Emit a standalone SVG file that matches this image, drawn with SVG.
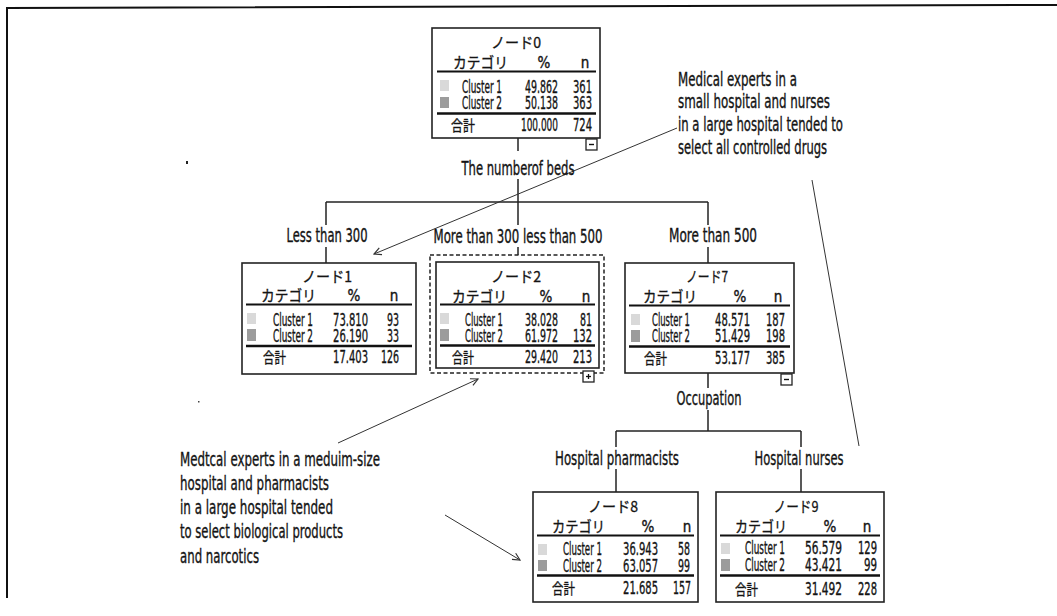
<svg xmlns="http://www.w3.org/2000/svg" width="1057" height="616" viewBox="0 0 1057 616">
<style>
.t{font-family:"DejaVu Sans Condensed","Liberation Sans Narrow","Liberation Sans","Noto Sans CJK JP",sans-serif;fill:#141414;stroke:#141414;stroke-width:0.35;}
.j{font-family:"Noto Sans CJK JP","Noto Sans CJK SC",sans-serif;fill:#141414;stroke:#141414;stroke-width:0.3;}
.ttl{font-size:15px;text-anchor:middle;}
.hdr{font-size:15px;}
.cl{font-size:17px;}
.num{font-size:17px;text-anchor:end;}
.lab{font-size:19px;text-anchor:middle;}
.ann{font-size:19px;}
.box{fill:#fff;stroke:#222;stroke-width:1.6;}
.rule{stroke:#111;stroke-width:2;}
.sw1{fill:#d9d9d9;}
.sw2{fill:#9c9c9c;}
.con{stroke:#222;stroke-width:1.5;fill:none;}
.lead{stroke:#333;stroke-width:1;fill:none;}
.frame{stroke:#111;stroke-width:2;fill:none;}
</style>
<defs>
<marker id="arr" viewBox="0 0 10 10" refX="9" refY="5" markerWidth="9" markerHeight="9" orient="auto" markerUnits="userSpaceOnUse">
<path d="M1,1 L9,5 L1,9" fill="none" stroke="#333" stroke-width="1.3"/>
</marker>
</defs>

<path class="frame" d="M7,598 L7,8 L1057,5"/>
<rect x="186" y="161" width="2" height="3" fill="#222"/>
<rect x="198" y="401" width="1.5" height="1.5" fill="#444"/>

<g id="connectors">
<line class="con" x1="518" y1="138" x2="518" y2="151"/>
<line class="con" x1="518" y1="179" x2="518" y2="202"/>
<line class="con" x1="326" y1="202" x2="708" y2="202"/>
<line class="con" x1="326" y1="202" x2="326" y2="225"/>
<line class="con" x1="326" y1="247" x2="326" y2="263"/>
<line class="con" x1="518" y1="202" x2="518" y2="225"/>
<line class="con" x1="518" y1="247" x2="518" y2="255"/>
<line class="con" x1="708" y1="202" x2="708" y2="225"/>
<line class="con" x1="708" y1="247" x2="708" y2="263"/>
<line class="con" x1="708" y1="373" x2="708" y2="388"/>
<line class="con" x1="708" y1="410" x2="708" y2="431"/>
<line class="con" x1="616" y1="431" x2="801" y2="431"/>
<line class="con" x1="616" y1="431" x2="616" y2="447"/>
<line class="con" x1="801" y1="431" x2="801" y2="447"/>
<line class="con" x1="616" y1="469" x2="616" y2="492"/>
<line class="con" x1="801" y1="469" x2="801" y2="492"/>
<line class="lead" x1="677" y1="128" x2="374" y2="254" marker-end="url(#arr)"/>
<line class="lead" x1="812" y1="180" x2="859" y2="446"/>
<line class="lead" x1="338" y1="443" x2="478" y2="379" marker-end="url(#arr)"/>
<line class="lead" x1="445" y1="515" x2="520" y2="560" marker-end="url(#arr)"/>
</g>

<g id="edge-labels">
<text class="t lab" transform="translate(518,175) scale(0.7,1)" textLength="161.4" lengthAdjust="spacingAndGlyphs">The numberof beds</text>
<text class="t lab" transform="translate(327,242) scale(0.7,1)" textLength="115.7" lengthAdjust="spacingAndGlyphs">Less than 300</text>
<text class="t lab" transform="translate(518,243) scale(0.7,1)" textLength="241.4" lengthAdjust="spacingAndGlyphs">More than 300 less than 500</text>
<text class="t lab" transform="translate(713,242) scale(0.7,1)" textLength="125.7" lengthAdjust="spacingAndGlyphs">More than 500</text>
<text class="t lab" transform="translate(709,405) scale(0.7,1)" textLength="92.9" lengthAdjust="spacingAndGlyphs">Occupation</text>
<text class="t lab" transform="translate(617,465) scale(0.7,1)" textLength="177.1" lengthAdjust="spacingAndGlyphs">Hospital pharmacists</text>
<text class="t lab" transform="translate(799,465) scale(0.7,1)" textLength="127.1" lengthAdjust="spacingAndGlyphs">Hospital nurses</text>
</g>

<g id="annotation-top">
<text class="t ann" transform="translate(678,86) scale(0.7,1)" textLength="170" lengthAdjust="spacingAndGlyphs">Medical experts in a</text>
<text class="t ann" transform="translate(678,108) scale(0.7,1)" textLength="217.1" lengthAdjust="spacingAndGlyphs">small hospital and nurses</text>
<text class="t ann" transform="translate(678,131) scale(0.7,1)" textLength="235.7" lengthAdjust="spacingAndGlyphs">in a large hospital tended to</text>
<text class="t ann" transform="translate(678,154) scale(0.7,1)" textLength="212.9" lengthAdjust="spacingAndGlyphs">select all controlled drugs</text>
</g>

<g id="annotation-bottom">
<text class="t ann" transform="translate(180,466) scale(0.7,1)" textLength="285.7" lengthAdjust="spacingAndGlyphs">Medtcal experts in a meduim-size</text>
<text class="t ann" transform="translate(180,490) scale(0.7,1)" textLength="212.9" lengthAdjust="spacingAndGlyphs">hospital and pharmacists</text>
<text class="t ann" transform="translate(180,514) scale(0.7,1)" textLength="218.6" lengthAdjust="spacingAndGlyphs">in a large hospital tended</text>
<text class="t ann" transform="translate(180,538) scale(0.7,1)" textLength="232.9" lengthAdjust="spacingAndGlyphs">to select biological products</text>
<text class="t ann" transform="translate(180,563) scale(0.7,1)" textLength="112.9" lengthAdjust="spacingAndGlyphs">and narcotics</text>
</g>

<g id="node0" transform="translate(432,28)">
<rect class="box" x="0" y="0" width="168" height="110"/>
<text class="j ttl" x="84" y="20" textLength="50" lengthAdjust="spacingAndGlyphs">ノード0</text>
<text class="j hdr" x="21" y="40" textLength="55" lengthAdjust="spacingAndGlyphs">カテゴリ</text>
<text class="t hdr" x="112" y="40" text-anchor="middle">%</text>
<text class="t hdr" x="153" y="40" text-anchor="middle">n</text>
<line class="rule" x1="5" y1="43.5" x2="164" y2="43.5"/>
<rect class="sw1" x="8" y="52" width="9" height="11"/>
<text class="t cl" transform="translate(30,65) scale(0.6,1)" textLength="66.7" lengthAdjust="spacingAndGlyphs">Cluster 1</text>
<text class="t num" transform="translate(126,65) scale(0.6,1)" textLength="55" lengthAdjust="spacingAndGlyphs">49.862</text>
<text class="t num" transform="translate(160,65) scale(0.6,1)" textLength="31.7" lengthAdjust="spacingAndGlyphs">361</text>
<rect class="sw2" x="8" y="69" width="9" height="11"/>
<text class="t cl" transform="translate(30,81) scale(0.6,1)" textLength="66.7" lengthAdjust="spacingAndGlyphs">Cluster 2</text>
<text class="t num" transform="translate(126,81) scale(0.6,1)" textLength="55" lengthAdjust="spacingAndGlyphs">50.138</text>
<text class="t num" transform="translate(160,81) scale(0.6,1)" textLength="31.7" lengthAdjust="spacingAndGlyphs">363</text>
<line class="rule" x1="5" y1="85.5" x2="164" y2="85.5" style="stroke-width:2.5"/>
<text class="j hdr" x="19" y="103" textLength="24" lengthAdjust="spacingAndGlyphs">合計</text>
<text class="t num" transform="translate(126,103) scale(0.6,1)" textLength="61.7" lengthAdjust="spacingAndGlyphs">100.000</text>
<text class="t num" transform="translate(160,103) scale(0.6,1)" textLength="31.7" lengthAdjust="spacingAndGlyphs">724</text>
<rect class="box" x="154" y="111" width="11" height="11" style="stroke-width:1.3"/>
<line x1="157" y1="116.5" x2="162" y2="116.5" stroke="#111" stroke-width="1.4"/>
</g>

<g id="node1" transform="translate(242,263)">
<rect class="box" x="0" y="0" width="174" height="111"/>
<text class="j ttl" x="85" y="19" textLength="50" lengthAdjust="spacingAndGlyphs">ノード1</text>
<text class="j hdr" x="19" y="38" textLength="55" lengthAdjust="spacingAndGlyphs">カテゴリ</text>
<text class="t hdr" x="112" y="38" text-anchor="middle">%</text>
<text class="t hdr" x="152" y="38" text-anchor="middle">n</text>
<line class="rule" x1="4" y1="41.5" x2="170" y2="41.5"/>
<rect class="sw1" x="5" y="50" width="9" height="11"/>
<text class="t cl" transform="translate(31,63) scale(0.6,1)" textLength="66.7" lengthAdjust="spacingAndGlyphs">Cluster 1</text>
<text class="t num" transform="translate(126,63) scale(0.6,1)" textLength="58.3" lengthAdjust="spacingAndGlyphs">73.810</text>
<text class="t num" transform="translate(157,63) scale(0.6,1)" textLength="20" lengthAdjust="spacingAndGlyphs">93</text>
<rect class="sw2" x="5" y="66" width="9" height="12"/>
<text class="t cl" transform="translate(31,79) scale(0.6,1)" textLength="66.7" lengthAdjust="spacingAndGlyphs">Cluster 2</text>
<text class="t num" transform="translate(126,79) scale(0.6,1)" textLength="58.3" lengthAdjust="spacingAndGlyphs">26.190</text>
<text class="t num" transform="translate(157,79) scale(0.6,1)" textLength="20" lengthAdjust="spacingAndGlyphs">33</text>
<line class="rule" x1="4" y1="83" x2="170" y2="83" style="stroke-width:2.5"/>
<text class="j hdr" x="21" y="100" textLength="23" lengthAdjust="spacingAndGlyphs">合計</text>
<text class="t num" transform="translate(126,100) scale(0.6,1)" textLength="58.3" lengthAdjust="spacingAndGlyphs">17.403</text>
<text class="t num" transform="translate(157,100) scale(0.6,1)" textLength="30" lengthAdjust="spacingAndGlyphs">126</text>
</g>

<g id="node2" transform="translate(436,262)">
<rect x="-6" y="-7" width="174" height="118" fill="none" stroke="#222" stroke-width="1.5" stroke-dasharray="4,2.5"/>
<rect class="box" x="0" y="0" width="163" height="106"/>
<text class="j ttl" x="80" y="20" textLength="50" lengthAdjust="spacingAndGlyphs">ノード2</text>
<text class="j hdr" x="16" y="40" textLength="55" lengthAdjust="spacingAndGlyphs">カテゴリ</text>
<text class="t hdr" x="110" y="40" text-anchor="middle">%</text>
<text class="t hdr" x="150" y="40" text-anchor="middle">n</text>
<line class="rule" x1="4" y1="42.5" x2="159" y2="42.5"/>
<rect class="sw1" x="4" y="51" width="9" height="11"/>
<text class="t cl" transform="translate(29,64) scale(0.6,1)" textLength="63.3" lengthAdjust="spacingAndGlyphs">Cluster 1</text>
<text class="t num" transform="translate(122,64) scale(0.6,1)" textLength="55" lengthAdjust="spacingAndGlyphs">38.028</text>
<text class="t num" transform="translate(156,64) scale(0.6,1)" textLength="20" lengthAdjust="spacingAndGlyphs">81</text>
<rect class="sw2" x="4" y="67" width="9" height="12"/>
<text class="t cl" transform="translate(29,80) scale(0.6,1)" textLength="63.3" lengthAdjust="spacingAndGlyphs">Cluster 2</text>
<text class="t num" transform="translate(122,80) scale(0.6,1)" textLength="55" lengthAdjust="spacingAndGlyphs">61.972</text>
<text class="t num" transform="translate(156,80) scale(0.6,1)" textLength="31.7" lengthAdjust="spacingAndGlyphs">132</text>
<line class="rule" x1="4" y1="83.5" x2="159" y2="83.5" style="stroke-width:2.5"/>
<text class="j hdr" x="16" y="101" textLength="22" lengthAdjust="spacingAndGlyphs">合計</text>
<text class="t num" transform="translate(122,101) scale(0.6,1)" textLength="55" lengthAdjust="spacingAndGlyphs">29.420</text>
<text class="t num" transform="translate(156,101) scale(0.6,1)" textLength="31.7" lengthAdjust="spacingAndGlyphs">213</text>
<rect class="box" x="147" y="109" width="11" height="11" style="stroke-width:1.3"/>
<line x1="150" y1="114.5" x2="155" y2="114.5" stroke="#111" stroke-width="1.3"/>
<line x1="152.5" y1="112" x2="152.5" y2="117" stroke="#111" stroke-width="1.3"/>
</g>

<g id="node7" transform="translate(625,263)">
<rect class="box" x="0" y="0" width="169" height="110"/>
<text class="j ttl" x="82" y="19" textLength="42" lengthAdjust="spacingAndGlyphs">ノード7</text>
<text class="j hdr" x="18" y="39" textLength="54" lengthAdjust="spacingAndGlyphs">カテゴリ</text>
<text class="t hdr" x="115" y="39" text-anchor="middle">%</text>
<text class="t hdr" x="153" y="39" text-anchor="middle">n</text>
<line class="rule" x1="4" y1="42.5" x2="165" y2="42.5"/>
<rect class="sw1" x="6" y="51" width="9" height="11"/>
<text class="t cl" transform="translate(27,63) scale(0.6,1)" textLength="63.3" lengthAdjust="spacingAndGlyphs">Cluster 1</text>
<text class="t num" transform="translate(125,63) scale(0.6,1)" textLength="58.3" lengthAdjust="spacingAndGlyphs">48.571</text>
<text class="t num" transform="translate(160,63) scale(0.6,1)" textLength="31.7" lengthAdjust="spacingAndGlyphs">187</text>
<rect class="sw2" x="6" y="67" width="9" height="12"/>
<text class="t cl" transform="translate(27,79) scale(0.6,1)" textLength="63.3" lengthAdjust="spacingAndGlyphs">Cluster 2</text>
<text class="t num" transform="translate(125,79) scale(0.6,1)" textLength="58.3" lengthAdjust="spacingAndGlyphs">51.429</text>
<text class="t num" transform="translate(160,79) scale(0.6,1)" textLength="31.7" lengthAdjust="spacingAndGlyphs">198</text>
<line class="rule" x1="4" y1="83.5" x2="165" y2="83.5" style="stroke-width:2.5"/>
<text class="j hdr" x="19" y="101" textLength="23" lengthAdjust="spacingAndGlyphs">合計</text>
<text class="t num" transform="translate(125,101) scale(0.6,1)" textLength="58.3" lengthAdjust="spacingAndGlyphs">53.177</text>
<text class="t num" transform="translate(160,101) scale(0.6,1)" textLength="31.7" lengthAdjust="spacingAndGlyphs">385</text>
<rect class="box" x="156" y="111" width="11" height="11" style="stroke-width:1.3"/>
<line x1="159" y1="116.5" x2="164" y2="116.5" stroke="#111" stroke-width="1.4"/>
</g>

<g id="node8" transform="translate(533,492)">
<rect class="box" x="0" y="0" width="165" height="110"/>
<text class="j ttl" x="80" y="20" textLength="50" lengthAdjust="spacingAndGlyphs">ノード8</text>
<text class="j hdr" x="19" y="40" textLength="53" lengthAdjust="spacingAndGlyphs">カテゴリ</text>
<text class="t hdr" x="115" y="40" text-anchor="middle">%</text>
<text class="t hdr" x="154" y="40" text-anchor="middle">n</text>
<line class="rule" x1="4" y1="43.5" x2="161" y2="43.5"/>
<rect class="sw1" x="5" y="52" width="9" height="11"/>
<text class="t cl" transform="translate(30,63) scale(0.6,1)" textLength="65" lengthAdjust="spacingAndGlyphs">Cluster 1</text>
<text class="t num" transform="translate(125,63) scale(0.6,1)" textLength="58.3" lengthAdjust="spacingAndGlyphs">36.943</text>
<text class="t num" transform="translate(157,63) scale(0.6,1)" textLength="20" lengthAdjust="spacingAndGlyphs">58</text>
<rect class="sw2" x="5" y="68" width="9" height="11"/>
<text class="t cl" transform="translate(30,80) scale(0.6,1)" textLength="65" lengthAdjust="spacingAndGlyphs">Cluster 2</text>
<text class="t num" transform="translate(125,80) scale(0.6,1)" textLength="58.3" lengthAdjust="spacingAndGlyphs">63.057</text>
<text class="t num" transform="translate(157,80) scale(0.6,1)" textLength="20" lengthAdjust="spacingAndGlyphs">99</text>
<line class="rule" x1="4" y1="83.5" x2="161" y2="83.5" style="stroke-width:2.5"/>
<text class="j hdr" x="19" y="102" textLength="23" lengthAdjust="spacingAndGlyphs">合計</text>
<text class="t num" transform="translate(125,102) scale(0.6,1)" textLength="58.3" lengthAdjust="spacingAndGlyphs">21.685</text>
<text class="t num" transform="translate(158,102) scale(0.6,1)" textLength="30" lengthAdjust="spacingAndGlyphs">157</text>
</g>

<g id="node9" transform="translate(716,492)">
<rect class="box" x="0" y="0" width="168" height="110"/>
<text class="j ttl" x="80" y="20" textLength="45" lengthAdjust="spacingAndGlyphs">ノード9</text>
<text class="j hdr" x="19" y="40" textLength="52" lengthAdjust="spacingAndGlyphs">カテゴリ</text>
<text class="t hdr" x="114" y="40" text-anchor="middle">%</text>
<text class="t hdr" x="151" y="40" text-anchor="middle">n</text>
<line class="rule" x1="4" y1="43.5" x2="164" y2="43.5"/>
<rect class="sw1" x="5" y="51" width="9" height="11"/>
<text class="t cl" transform="translate(29,62) scale(0.6,1)" textLength="66.7" lengthAdjust="spacingAndGlyphs">Cluster 1</text>
<text class="t num" transform="translate(126,62) scale(0.6,1)" textLength="61.7" lengthAdjust="spacingAndGlyphs">56.579</text>
<text class="t num" transform="translate(161,62) scale(0.6,1)" textLength="31.7" lengthAdjust="spacingAndGlyphs">129</text>
<rect class="sw2" x="5" y="67" width="9" height="12"/>
<text class="t cl" transform="translate(29,79) scale(0.6,1)" textLength="66.7" lengthAdjust="spacingAndGlyphs">Cluster 2</text>
<text class="t num" transform="translate(126,79) scale(0.6,1)" textLength="61.7" lengthAdjust="spacingAndGlyphs">43.421</text>
<text class="t num" transform="translate(161,79) scale(0.6,1)" textLength="21.7" lengthAdjust="spacingAndGlyphs">99</text>
<line class="rule" x1="4" y1="83.5" x2="164" y2="83.5" style="stroke-width:2.5"/>
<text class="j hdr" x="19" y="103" textLength="23" lengthAdjust="spacingAndGlyphs">合計</text>
<text class="t num" transform="translate(126,103) scale(0.6,1)" textLength="61.7" lengthAdjust="spacingAndGlyphs">31.492</text>
<text class="t num" transform="translate(161,103) scale(0.6,1)" textLength="31.7" lengthAdjust="spacingAndGlyphs">228</text>
</g>
</svg>
